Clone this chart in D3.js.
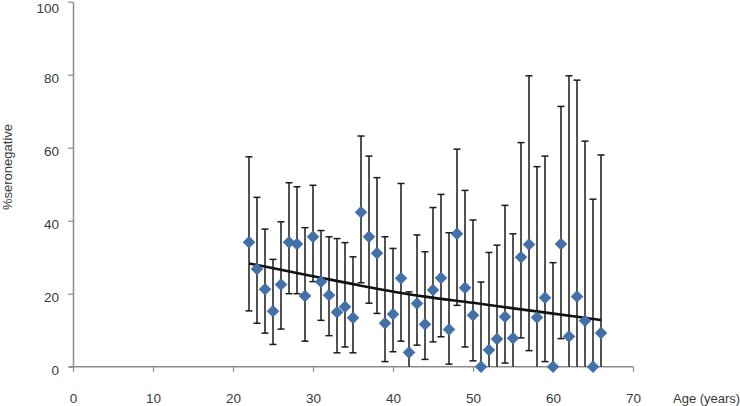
<!DOCTYPE html>
<html>
<head>
<meta charset="utf-8">
<script src="https://cdn.jsdelivr.net/npm/d3@7"></script>
<style>
  html, body { margin: 0; padding: 0; background: #fff; }
  svg { display: block; font-family: "Liberation Sans", Arial, sans-serif; }
</style>
</head>
<body>
<svg id="chart" width="740" height="406"></svg>
<script>
// ---- data ----
const ages = [22,23,24,25,26,27,28,29,30,31,32,33,34,35,36,37,38,39,40,41,42,43,44,
              45,46,47,48,49,50,51,52,53,54,55,56,57,58,59,60,61,62,63,64,65,66];
const pctSeronegative = [34.1,26.8,21.2,15.2,22.5,34.1,33.6,19.4,35.6,23.3,19.6,14.9,16.4,13.4,42.3,35.6,31.1,11.9,14.4,24.2,3.9,17.3,11.6,
                         21.0,24.3,10.2,36.4,21.6,14.1,0,4.6,7.6,13.7,7.8,30.0,33.5,13.5,18.9,0,33.6,8.3,19.2,12.6,0,9.2];
const upperCI = [57.5,46.4,37.7,29.4,39.7,50.4,49.3,38.1,49.7,37.3,35.6,35.1,34.0,30.1,63.2,57.7,51.8,35.6,32.4,50.2,20.5,36.1,31.5,
                 43.6,47.2,36.7,59.6,48.3,40.2,23.2,31.3,33.3,44.2,36.4,61.4,79.7,54.8,57.7,28.5,71.3,79.7,78.5,61.8,45.9,58.0];
const lowerCI = [15.3,11.9,9.2,6.1,10.3,20.0,20.0,7.0,23.3,12.7,8.5,3.8,5.4,3.8,23.0,17.4,14.6,1.4,4.1,7.0,0,5.9,2.0,
                 6.8,8.2,0.7,16.8,5.4,1.6,0,0,0,1.0,0,7.9,4.4,0,1.4,0,7.7,0,0,0,0,0];
const trendAges = [22,30,36,44,50,56,63,66];
const trendValues = [28.3,24.8,22.2,19.2,17.5,15.7,13.7,12.8];
const xTicks = [0,10,20,30,40,50,60,70];
const yTicks = [0,20,40,60,80,100];
const xTitle = "Age (years)";
const yTitle = "%seronegative";

// ---- drawing ----
const svg = d3.select("#chart");
const x = d3.scaleLinear().domain([0, 70]).range([73, 633]);
const y = d3.scaleLinear().domain([0, 100]).range([366.7, 1.7]);
const axisColor = "#8c8c8c";
const textColor = "#3a3a3a";
const font = "Liberation Sans, Arial, sans-serif";

// y axis
const yAxis = svg.append("g").attr("transform", `translate(${x(0)},0)`)
  .call(d3.axisLeft(y).tickValues(yTicks).tickSize(5).tickSizeOuter(0).tickPadding(9));
yAxis.select(".domain").attr("stroke", axisColor).attr("stroke-width", 1.5);
yAxis.selectAll(".tick line").attr("stroke", axisColor).attr("stroke-width", 1.2);
yAxis.selectAll(".tick text").attr("fill", textColor).attr("font-size", 13.5)
  .attr("font-family", font)
  .attr("y", d => Math.max(3, 8 - y(d)))
  .attr("dy", "0.35em");

// x axis
const xAxis = svg.append("g").attr("transform", `translate(0,${y(0)})`)
  .call(d3.axisBottom(x).tickValues(xTicks).tickSize(5).tickSizeOuter(0).tickPadding(22));
xAxis.select(".domain").attr("stroke", axisColor).attr("stroke-width", 1.5)
  .attr("d", `M${x(0) - 4},0H${x(70)}`);
xAxis.selectAll(".tick line").attr("stroke", axisColor).attr("stroke-width", 1.2);
xAxis.selectAll(".tick text").attr("fill", textColor).attr("font-size", 13.5)
  .attr("font-family", font);

// axis titles
svg.append("text").attr("x", 673).attr("y", 403)
  .attr("font-size", 13).attr("fill", textColor).text(xTitle);
svg.append("text").attr("transform", `translate(12,${167}) rotate(-90)`)
  .attr("text-anchor", "middle").attr("font-size", 13).attr("fill", textColor).text(yTitle);

const data = ages.map((a, i) => ({age: a, v: pctSeronegative[i], hi: upperCI[i], lo: lowerCI[i]}));

// error bars
const eb = svg.append("g").attr("stroke", "#1a1a1a").attr("stroke-width", 1.5);
eb.selectAll("line.v").data(data).join("line").attr("class", "v")
  .attr("x1", d => x(d.age)).attr("x2", d => x(d.age))
  .attr("y1", d => y(d.hi)).attr("y2", d => y(d.lo));
eb.selectAll("line.hc").data(data).join("line").attr("class", "hc")
  .attr("x1", d => x(d.age) - 3.5).attr("x2", d => x(d.age) + 3.5)
  .attr("y1", d => y(d.hi)).attr("y2", d => y(d.hi));
eb.selectAll("line.lc").data(data.filter(d => d.lo > 0.5)).join("line").attr("class", "lc")
  .attr("x1", d => x(d.age) - 3.5).attr("x2", d => x(d.age) + 3.5)
  .attr("y1", d => y(d.lo)).attr("y2", d => y(d.lo));

// trend line
const trend = trendAges.map((a, i) => [a, trendValues[i]]);
svg.append("path").datum(trend)
  .attr("fill", "none").attr("stroke", "#111").attr("stroke-width", 2.6)
  .attr("d", d3.line().x(d => x(d[0])).y(d => y(d[1])).curve(d3.curveMonotoneX));

// diamonds
const r = 6;
svg.append("g").selectAll("path").data(data).join("path")
  .attr("transform", d => `translate(${x(d.age)},${y(d.v)})`)
  .attr("d", `M0,${-r}L${r},0L0,${r}L${-r},0Z`)
  .attr("fill", "#4270a9").attr("stroke", "#3a65a0").attr("stroke-width", 0.5);
</script>
</body>
</html>
